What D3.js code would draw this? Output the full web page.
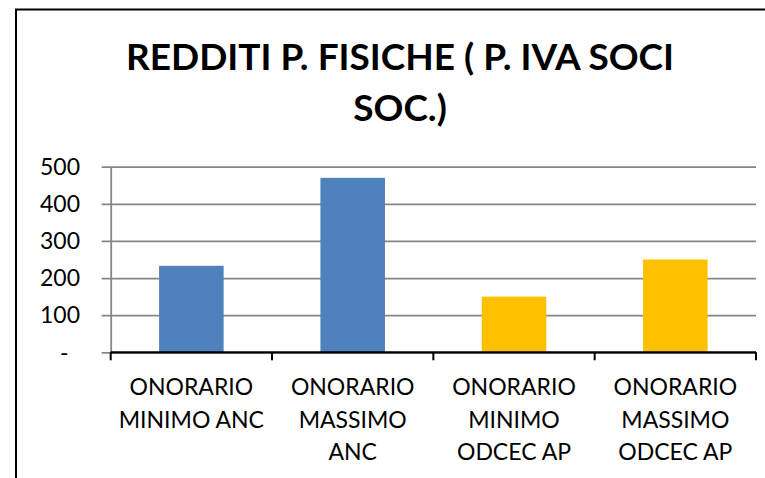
<!DOCTYPE html>
<html>
<head>
<meta charset="utf-8">
<script src="https://cdn.jsdelivr.net/npm/d3@7"></script>
<style>
  html, body { margin: 0; padding: 0; background: #fff; }
  svg { display: block; }
  text { font-family: Lato, "Open Sans", sans-serif; fill: #000; }
</style>
</head>
<body>
<script>
// Chart content
const titleLines = ["REDDITI P. FISICHE ( P. IVA SOCI", "SOC.)"];
const categories = [
  ["ONORARIO", "MINIMO ANC"],
  ["ONORARIO", "MASSIMO", "ANC"],
  ["ONORARIO", "MINIMO", "ODCEC AP"],
  ["ONORARIO", "MASSIMO", "ODCEC AP"]
];
const values = [233, 470, 150, 250];
const barColors = ["#4F81BD", "#4F81BD", "#FFC000", "#FFC000"];
const yTicks = [0, 100, 200, 300, 400, 500];
const yTickLabels = ["-", "100", "200", "300", "400", "500"];

const W = 765, H = 478;
const svg = d3.select("body").append("svg").attr("width", W).attr("height", H);

// outer chart frame (runs off the right and bottom edges)
svg.append("rect")
  .attr("x", 16).attr("y", 9.5)
  .attr("width", 800).attr("height", 500)
  .attr("fill", "#fff").attr("stroke", "#000").attr("stroke-width", 2);

// title
svg.append("text")
  .attr("text-anchor", "middle")
  .attr("font-weight", "bold")
  .attr("font-size", 37)
  .selectAll("tspan").data(titleLines).join("tspan")
  .attr("x", 400)
  .attr("y", (d, i) => 70 + i * 51)
  .text(d => d);

const plot = { left: 110.7, right: 756, top: 166.7, bottom: 352.3 };

const x = d3.scaleBand()
  .domain(d3.range(categories.length))
  .range([plot.left, plot.right])
  .paddingInner(0.6)
  .paddingOuter(0.3);

const y = d3.scaleLinear().domain([0, 500]).range([plot.bottom, plot.top]);

// horizontal gridlines with small left ticks
const yAxis = d3.axisLeft(y)
  .tickValues(yTicks)
  .tickSize(-(plot.right - plot.left))
  .tickSizeOuter(0)
  .tickFormat("");
const gy = svg.append("g").attr("transform", `translate(${plot.left},0)`).call(yAxis);
gy.select(".domain").attr("stroke", "#868686").attr("stroke-width", 1.8);
gy.selectAll(".tick line")
  .attr("x1", -9)
  .attr("stroke", "#868686").attr("stroke-width", 1.8);

// y tick labels
svg.append("g").selectAll("text").data(yTicks).join("text")
  .attr("x", (d, i) => i === 0 ? 68.5 : 80)
  .attr("y", d => y(d))
  .attr("dy", "0.36em")
  .attr("text-anchor", "end")
  .attr("font-size", 23)
  .text((d, i) => yTickLabels[i]);

// bars
svg.append("g").selectAll("rect").data(values).join("rect")
  .attr("x", (d, i) => x(i))
  .attr("width", x.bandwidth())
  .attr("y", d => y(d))
  .attr("height", d => y(0) - y(d))
  .attr("fill", (d, i) => barColors[i]);

// category axis: black baseline with boundary ticks
const bounds = d3.range(categories.length + 1).map(i => plot.left + i * x.step());
const gx = svg.append("g");
gx.append("line")
  .attr("x1", plot.left).attr("x2", plot.right)
  .attr("y1", plot.bottom).attr("y2", plot.bottom)
  .attr("stroke", "#000").attr("stroke-width", 2.2);
gx.selectAll(".bt").data(bounds).join("line")
  .attr("class", "bt")
  .attr("x1", d => d).attr("x2", d => d)
  .attr("y1", plot.bottom).attr("y2", plot.bottom + 8)
  .attr("stroke", "#000").attr("stroke-width", 2);

// category labels
svg.append("g").selectAll("text").data(categories).join("text")
  .attr("text-anchor", "middle")
  .attr("font-size", 23)
  .each(function(lines, i) {
    d3.select(this).selectAll("tspan").data(lines).join("tspan")
      .attr("x", x(i) + x.bandwidth() / 2)
      .attr("y", (d, j) => 395 + j * 32.7)
      .text(d => d);
  });
</script>
</body>
</html>
